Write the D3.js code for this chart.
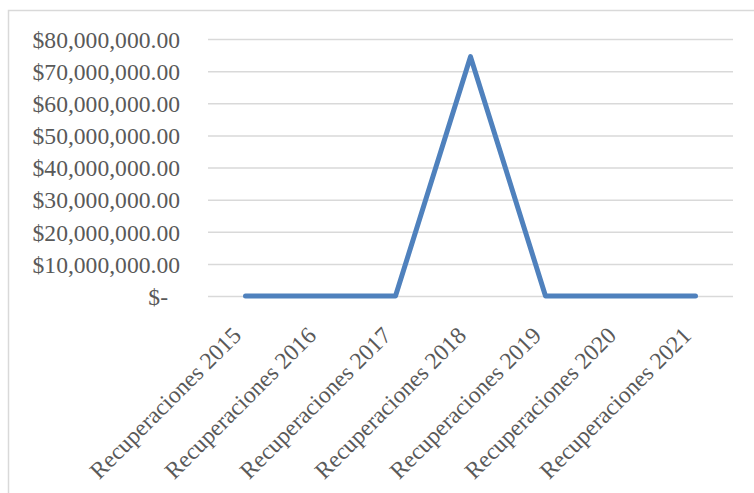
<!DOCTYPE html>
<html lang="es">
<head>
  <meta charset="UTF-8">
  <title>Recuperaciones 2015-2021</title>
  <script src="https://d3js.org/d3.v7.min.js"></script>
  <style>
    body { margin: 0; background: #fff; }
    .grid line { stroke: #d9d9d9; stroke-width: 1.5; }
    .grid path { display: none; }
    .axis text { font-family: "Liberation Serif", "Times New Roman", serif; font-size: 23.6px; fill: #595959; }
    .axis path, .axis line { display: none; }
    .serie { fill: none; stroke: #4f81bd; stroke-width: 5; stroke-linejoin: round; stroke-linecap: round; }
  </style>
</head>
<body>
  <div id="chart"></div>
  <script>
    // Datos
    const categorias = ["Recuperaciones 2015", "Recuperaciones 2016", "Recuperaciones 2017",
                        "Recuperaciones 2018", "Recuperaciones 2019", "Recuperaciones 2020",
                        "Recuperaciones 2021"];
    const valores = [0, 0, 0, 74500000, 0, 0, 0];
    const yTicks = [0, 10000000, 20000000, 30000000, 40000000, 50000000, 60000000, 70000000, 80000000];

    const W = 754, H = 493;
    const margin = { top: 39, right: 21, bottom: 197, left: 208 };
    const width = W - margin.left - margin.right,
          height = H - margin.top - margin.bottom;

    const root = d3.select("#chart").append("svg")
      .attr("width", W).attr("height", H);

    // marco
    root.append("rect")
      .attr("x", 8.5).attr("y", 10.5)
      .attr("width", 800).attr("height", 600)
      .attr("fill", "none").attr("stroke", "#d9d9d9").attr("stroke-width", 1.5);

    const svg = root.append("g")
      .attr("transform", `translate(${margin.left},${margin.top})`);

    const x = d3.scaleBand().domain(categorias).range([0, width]);
    const y = d3.scaleLinear().domain([0, 80000000]).range([height, 0]);

    // lineas de cuadricula
    svg.append("g")
      .attr("class", "grid")
      .call(d3.axisLeft(y).tickValues(yTicks).tickSize(-width).tickFormat(""));

    // eje Y
    const fmt = d => d === 0 ? "$-" : "$" + d3.format(",.2f")(d);
    const yAxis = svg.append("g")
      .attr("class", "axis")
      .call(d3.axisLeft(y).tickValues(yTicks).tickFormat(fmt).tickSize(0).tickPadding(28));
    yAxis.selectAll("text").attr("dy", "0.35em");
    yAxis.selectAll(".tick").filter(d => d === 0).select("text").attr("dx", -12);

    // eje X
    const xAxis = svg.append("g")
      .attr("class", "axis")
      .attr("transform", `translate(0,${height})`)
      .call(d3.axisBottom(x).tickSize(0));
    xAxis.selectAll("text")
      .attr("text-anchor", "end")
      .attr("y", 0)
      .attr("dy", 0)
      .attr("transform", "translate(-3,41) rotate(-45)");

    // serie
    const line = d3.line()
      .x((d, i) => x(categorias[i]) + x.bandwidth() / 2)
      .y(d => y(d));

    svg.append("path")
      .datum(valores)
      .attr("class", "serie")
      .attr("d", line);
  </script>
</body>
</html>
